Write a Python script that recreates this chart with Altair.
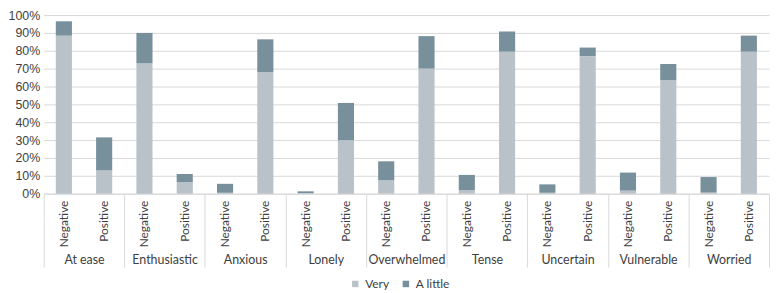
import altair as alt
import pandas as pd

groups = ["At ease", "Enthusiastic", "Anxious", "Lonely", "Overwhelmed",
          "Tense", "Uncertain", "Vulnerable", "Worried"]
sentiments = ["Negative", "Positive"]
levels = ["Very", "A little"]
colors = ["#b9c2c8", "#788f9c"]

# values in percent, order: group x (Negative, Positive)
very = [88.5, 13.0, 73.0, 6.5, 0.5, 68.0, 0.3, 30.0, 7.5, 70.0,
        1.9, 79.5, 0.5, 77.0, 1.7, 63.5, 0.6, 79.5]
a_little = [8.0, 18.5, 17.0, 4.5, 5.0, 18.4, 1.0, 20.8, 10.6, 18.2,
            8.6, 11.3, 4.7, 4.8, 10.1, 9.1, 8.7, 9.0]
y_ticks = list(range(0, 101, 10))

rows = []
cats = []
i = 0
for g in groups:
    for s in sentiments:
        cats.append({"group": g, "sentiment": s})
        rows.append({"group": g, "sentiment": s, "level": "Very", "ord": 0, "value": very[i]})
        rows.append({"group": g, "sentiment": s, "level": "A little", "ord": 1, "value": a_little[i]})
        i += 1
df = pd.DataFrame(rows)
cat_df = pd.DataFrame(cats)

GRID = "#d9d9d9"
TXT = "#404040"
H = 180

x_enc = alt.X("group:N", sort=groups,
              scale=alt.Scale(paddingInner=0, paddingOuter=0),
              axis=alt.Axis(title=None, tickBand="extent", tickSize=74,
                            tickColor=GRID, domainColor=GRID, labelAngle=0,
                            labelPadding=-14, labelFont="Lato", labelFontSize=12.5,
                            labelColor=TXT))
xo_enc = alt.XOffset("sentiment:N", sort=sentiments,
                     scale=alt.Scale(paddingInner=0.6, paddingOuter=0.3))

bars = alt.Chart(df).mark_bar().encode(
    x=x_enc,
    xOffset=xo_enc,
    y=alt.Y("value:Q", stack="zero", scale=alt.Scale(domain=[0, 100]),
            axis=alt.Axis(title=None, values=y_ticks, labelExpr="datum.value + '%'",
                          grid=True, gridColor=GRID, domain=False, ticks=False,
                          labelFont="Liberation Sans", labelFontSize=12.5,
                          labelPadding=4, labelColor=TXT)),
    color=alt.Color("level:N", scale=alt.Scale(domain=levels, range=colors),
                    legend=alt.Legend(title=None, orient="none", direction="horizontal",
                                      legendX=308, legendY=H + 85,
                                      symbolType="square", symbolSize=42,
                                      symbolStrokeWidth=0, labelFont="Lato",
                                      labelFontSize=12, labelColor=TXT,
                                      labelOffset=4, columnPadding=10)),
    order=alt.Order("ord:Q"),
)

sent_labels = alt.Chart(cat_df).mark_text(
    angle=270, align="right", baseline="middle", font="Lato", fontSize=12,
    color=TXT
).encode(
    x=x_enc,
    xOffset=xo_enc,
    y=alt.value(H + 7),
    text="sentiment:N",
)

chart = alt.layer(bars, sent_labels).properties(
    width=731, height=H, padding={"left": 0, "top": 0, "right": 0, "bottom": 0}
).configure_view(stroke=None)

chart.save("out.html", embed_options={"renderer": "svg", "actions": False})
